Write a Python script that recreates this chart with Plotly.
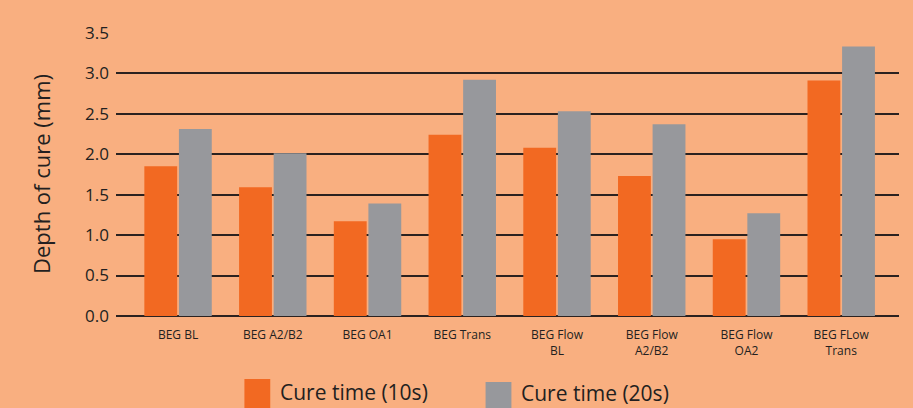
import plotly.graph_objects as go

categories = ["BEG BL", "BEG A2/B2", "BEG OA1", "BEG Trans",
              "BEG Flow<br>BL", "BEG Flow<br>A2/B2", "BEG Flow<br>OA2", "BEG FLow<br>Trans"]
cure_10s = [1.85, 1.59, 1.17, 2.24, 2.08, 1.73, 0.95, 2.91]
cure_20s = [2.31, 2.01, 1.39, 2.92, 2.53, 2.37, 1.27, 3.33]
series_names = ["Cure time (10s)", "Cure time (20s)"]
y_ticks = [0.0, 0.5, 1.0, 1.5, 2.0, 2.5, 3.0, 3.5]

ORANGE = "#F26922"
GREY = "#97989C"
BG = "#F9AF80"
TXT = "#231F20"
FONT = "Open Sans"

fig = go.Figure()
fig.add_trace(go.Bar(x=list(range(len(categories))), y=cure_10s, name=series_names[0],
                     marker=dict(color=ORANGE, line=dict(width=0)), showlegend=False))
fig.add_trace(go.Bar(x=list(range(len(categories))), y=cure_20s, name=series_names[1],
                     marker=dict(color=GREY, line=dict(width=0)), showlegend=False))

# legend drawn as swatches + text below the plot (paper coords)
legend_items = [
    # name, colour, swatch x0, swatch top, text y
    (series_names[0], ORANGE, 0.164, -0.222, -0.266),
    (series_names[1], GREY, 0.472, -0.232, -0.272),
]
for name, col, x0, top, ty in legend_items:
    fig.add_shape(type="rect", xref="paper", yref="paper",
                  x0=x0, x1=x0 + 0.033, y0=-0.40, y1=top,
                  fillcolor=col, line=dict(width=0))
    fig.add_annotation(text=name, xref="paper", yref="paper", x=x0 + 0.044, y=ty,
                       xanchor="left", yanchor="middle", showarrow=False, borderpad=0,
                       font=dict(family=FONT, size=21, color=TXT))

fig.update_layout(
    width=913, height=408,
    margin=dict(l=116, r=14, t=32, b=92),
    paper_bgcolor=BG, plot_bgcolor=BG,
    bargap=0.27, bargroupgap=0.05, barmode="group",
    font=dict(family=FONT, color=TXT),
    xaxis=dict(range=[-0.655, 7.61], tickmode="array",
               tickvals=list(range(len(categories))), ticktext=categories,
               tickfont=dict(size=12, color=TXT), showgrid=False, showline=False,
               zeroline=False, ticks="", ticklabelstandoff=10),
    yaxis=dict(range=[0, 3.51], tickmode="array", tickvals=y_ticks,
               ticktext=[f"{v:.1f}" for v in y_ticks],
               tickfont=dict(size=17, color=TXT),
               showgrid=True, gridcolor="#2B2220", gridwidth=1.5,
               zeroline=True, zerolinecolor="#2B2220", zerolinewidth=1.5,
               showline=False, ticks="", ticklabelstandoff=6,
               title=dict(text="Depth of cure (mm)", font=dict(size=22, color=TXT), standoff=28)),
)

fig.write_html("out.html", config={"displayModeBar": False},
               post_script="document.body.style.margin='0';document.body.style.padding='0';")
